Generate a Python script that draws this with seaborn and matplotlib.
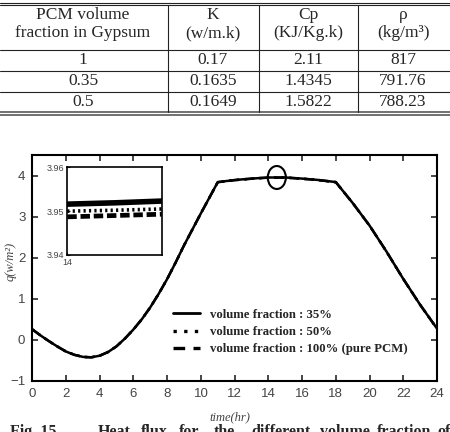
import pandas as pd
import matplotlib.pyplot as plt
import seaborn as sns
from matplotlib.lines import Line2D
from matplotlib.patches import Ellipse

# Table data
table_head_top = ['PCM volume', 'K', 'Cp', 'ρ']
table_head_bot = ['fraction in Gypsum', '(w/m.k)', '(KJ/Kg.k)', '(kg/m³)']
table_rows = [
    ['1', '0.17', '2.11', '817'],
    ['0.35', '0.1635', '1.4345', '791.76'],
    ['0.5', '0.1649', '1.5822', '788.23'],
]

# Heat flux data
hours = [0, 0.5, 1, 1.5, 2, 2.5, 3, 3.5, 4, 4.5, 5, 5.5, 6, 6.5, 7, 7.5, 8, 8.5, 9,
         10, 11, 12, 13, 14, 14.5, 15, 16, 17, 18, 19, 20, 21, 22, 23, 24]
q_35 = [0.25, 0.10, -0.04, -0.17, -0.29, -0.37, -0.42, -0.43, -0.39, -0.30, -0.16, 0.03,
        0.25, 0.50, 0.79, 1.12, 1.48, 1.88, 2.30, 3.08, 3.84, 3.89, 3.925, 3.9516, 3.9519,
        3.9523, 3.925, 3.89, 3.84, 3.33, 2.78, 2.15, 1.48, 0.85, 0.27]
q_50 = [0.25, 0.10, -0.04, -0.17, -0.29, -0.37, -0.42, -0.43, -0.39, -0.30, -0.16, 0.03,
        0.25, 0.50, 0.79, 1.12, 1.48, 1.88, 2.30, 3.08, 3.838, 3.888, 3.923, 3.9500, 3.9502,
        3.9505, 3.923, 3.888, 3.838, 3.33, 2.78, 2.15, 1.48, 0.85, 0.27]
q_100 = [0.25, 0.10, -0.04, -0.17, -0.29, -0.37, -0.42, -0.43, -0.39, -0.30, -0.16, 0.03,
         0.25, 0.50, 0.79, 1.12, 1.48, 1.88, 2.30, 3.08, 3.837, 3.887, 3.922, 3.9487, 3.9490,
         3.9493, 3.922, 3.887, 3.837, 3.33, 2.78, 2.15, 1.48, 0.85, 0.27]
fractions = ['35%', '50%', '100%']
legend_labels = ['volume fraction : 35%', 'volume fraction : 50%',
                 'volume fraction : 100% (pure PCM)']
inset_range = [14, 15]

df = pd.DataFrame({
    'time': hours * 3,
    'q': q_35 + q_50 + q_100,
    'fraction': [f for f in fractions for _ in hours],
})

sns.set_style('ticks')
plt.rcParams['font.family'] = ['Liberation Sans', 'DejaVu Sans']
serif = 'Liberation Serif'

fig = plt.figure(figsize=(4.5, 4.32), dpi=100)
W, H = 450, 432

# ---- table drawn in figure coordinates ----
col_x = [83, 213, 308, 403]
for i in range(4):
    fig.text(col_x[i] / W, 1 - 15 / H, table_head_top[i], ha='center', va='center',
             fontsize=12.5, family=serif)
    fig.text(col_x[i] / W, 1 - 33 / H, table_head_bot[i], ha='center', va='center',
             fontsize=12.5, family=serif)
for r, row in enumerate(table_rows):
    for i, val in enumerate(row):
        fig.text(col_x[i] / W, 1 - (60 + 21 * r) / H, val, ha='center', va='center',
                 fontsize=12.5, family=serif)


def hline(y, lw=0.8, color='#222'):
    fig.add_artist(Line2D([0, 1], [1 - y / H, 1 - y / H], transform=fig.transFigure,
                          lw=lw, color=color))


hline(2.7)
hline(4.8)
for y in [49.5, 70.5, 91.7]:
    hline(y)
hline(112.3, lw=1.3, color='#666')
hline(114.5, lw=1.3, color='#666')
for x in [168.3, 259.3, 357.7]:
    fig.add_artist(Line2D([x / W, x / W], [1 - 4.8 / H, 1 - 112.3 / H],
                          transform=fig.transFigure, lw=0.8, color='#222'))

# ---- main chart ----
ax = fig.add_axes([32.3 / W, 1 - 380.7 / H, 404.7 / W, 225.7 / H])
pal = {f: 'black' for f in fractions}
dash_map = {'35%': '', '50%': (1, 2), '100%': (4, 2)}
sns.lineplot(data=df, x='time', y='q', hue='fraction', style='fraction',
             palette=pal, dashes=dash_map, lw=1.8, legend=False, ax=ax)
ax.set_xlim(0, 24)
ax.set_ylim(-1, 4.5)
ax.set_xticks(range(0, 25, 2))
ax.set_yticks(range(-1, 5))
ax.tick_params(direction='in', length=4, width=1.2, top=True, right=True,
               labelsize=9.5, labelcolor='#444', pad=5)
for s in ax.spines.values():
    s.set_linewidth(1.5)
    s.set_color('black')
ax.set_xlabel('time(hr)', fontsize=9, style='italic', family=serif, color='#444')
ax.set_ylabel('q(w/m²)', fontsize=9, style='italic', family=serif, color='#444')
ax.xaxis.set_label_coords(0.4885, -0.134)
ax.yaxis.set_label_coords(-0.04, 0.53)

# circle marking the zoomed region
cx = sum(inset_range) / 2
cy = q_35[hours.index(cx)]
ax.add_patch(Ellipse((cx, cy), width=1.07, height=0.56, fill=False, lw=1.5, color='black'))

handles = [Line2D([], [], color='k', lw=2),
           Line2D([], [], color='k', lw=2.4, ls=(0, (1, 2.2))),
           Line2D([], [], color='k', lw=2.4, ls=(0, (3.5, 2.5)))]
ax.legend(handles, legend_labels, loc='upper left', bbox_to_anchor=(0.348, 0.318),
          frameon=False, borderaxespad=0, borderpad=0, handlelength=2.1,
          handletextpad=0.8, labelspacing=0.4,
          prop={'family': serif, 'weight': 'bold', 'size': 9.2})

# ---- inset ----
axi = fig.add_axes([67.3 / W, 1 - 255 / H, 94.4 / W, 87.7 / H])
sub = df[(df['time'] >= inset_range[0]) & (df['time'] <= inset_range[1])]
inset_w = {'35%': 4.0, '50%': 2.6, '100%': 3.4}
inset_dash = {'35%': '', '50%': (0.6, 0.9), '100%': (2, 0.8)}
for f in fractions:
    part = sub[sub['fraction'] == f]
    sns.lineplot(data=part, x='time', y='q', color='black', lw=inset_w[f],
                 dashes=inset_dash[f] if inset_dash[f] else None, legend=False, ax=axi)
axi.set_xlim(*inset_range)
axi.set_ylim(3.94, 3.96)
axi.set_xticks([14])
axi.set_yticks([3.94, 3.95, 3.96])
axi.set_yticklabels(['3.94', '3.95', '3.96'])
axi.tick_params(direction='in', length=2, labelsize=6.5, labelcolor='#444', pad=2)
axi.set_xlabel('')
axi.set_ylabel('')
for s in axi.spines.values():
    s.set_linewidth(1.2)
    s.set_color('black')

# ---- caption (cut off at bottom) ----
caption_words = ['Fig. 15', 'Heat', 'flux', 'for', 'the', 'different', 'volume', 'fraction', 'of']
caption_x = [10, 98, 141, 179, 214, 251, 320, 377, 437]
for wd, x in zip(caption_words, caption_x):
    fig.text(x / W, 1 - 424 / H, wd, ha='left', va='top', fontsize=11.5,
             weight='bold', family=serif)

fig.savefig('out.png', dpi=100)
